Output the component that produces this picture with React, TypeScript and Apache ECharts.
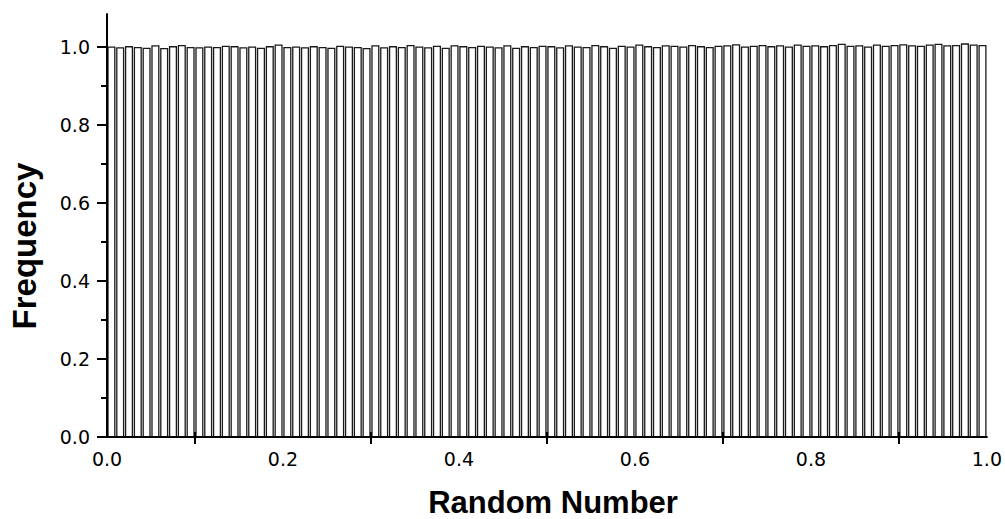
import React, { useEffect, useRef } from "react";
import * as echarts from "echarts";

// Histogram of 100 equal-width bins over [0, 1], normalised frequency per bin
const BIN_COUNT = 100;
const frequencies: number[] = [
  1.000, 0.998, 1.001, 0.999, 0.997, 1.003, 0.996, 1.001, 1.004, 0.999,
  0.998, 1.000, 0.999, 1.002, 1.001, 0.998, 1.000, 0.997, 1.001, 1.005,
  0.999, 1.000, 0.998, 1.001, 0.999, 0.997, 1.002, 1.000, 0.999, 0.996,
  1.003, 0.998, 1.001, 0.999, 1.004, 1.000, 0.998, 1.002, 0.997, 1.003,
  1.001, 0.999, 1.002, 1.000, 0.998, 1.003, 0.997, 1.001, 0.999, 1.002,
  1.001, 0.998, 1.003, 1.000, 0.999, 1.004, 1.001, 0.997, 1.002, 1.000,
  1.005, 1.001, 0.999, 1.003, 1.002, 1.000, 1.004, 1.001, 0.999, 1.002,
  1.003, 1.006, 1.000, 1.002, 1.004, 1.001, 1.003, 1.000, 1.005, 1.002,
  1.003, 1.001, 1.004, 1.007, 1.002, 1.003, 1.000, 1.005, 1.002, 1.004,
  1.006, 1.003, 1.002, 1.005, 1.007, 1.003, 1.004, 1.008, 1.005, 1.004,
];

const xLabelValues = [0, 0.2, 0.4, 0.6, 0.8, 1.0];
const xTickValues = [0.1, 0.3, 0.5, 0.7, 0.9];
const yMajorValues = [0, 0.2, 0.4, 0.6, 0.8, 1.0];
const yMinorValues = [0.1, 0.3, 0.5, 0.7, 0.9];

const TITLE_FONT = "'Liberation Sans', Arial, Helvetica, sans-serif";
const TICK_FONT = "'DejaVu Sans', Verdana, sans-serif";

export default function App() {
  const ref = useRef<HTMLDivElement>(null);

  useEffect(() => {
    if (!ref.current) return;
    const chart = echarts.init(ref.current, undefined, { renderer: "svg" });

    const bins = frequencies.map((f, i) => [i / BIN_COUNT, (i + 1) / BIN_COUNT, f]);

    const axisLineStyle = { color: "#000", width: 2 };
    const labelStyle = {
      color: "#000",
      fontFamily: TICK_FONT,
      fontSize: 19,
      formatter: (v: number) => v.toFixed(1),
    };

    chart.setOption({
      animation: false,
      backgroundColor: "#fff",
      grid: { left: 107, right: 18, top: 14, bottom: 82, containLabel: false },
      xAxis: [
        {
          type: "value",
          min: 0,
          max: 1,
          z: 5,
          splitLine: { show: false },
          axisLine: { lineStyle: axisLineStyle },
          axisTick: {
            show: true,
            length: 7,
            customValues: xTickValues,
            lineStyle: { color: "#000", width: 2 },
          },
          axisLabel: { ...labelStyle, margin: 12, customValues: xLabelValues },
        },
        {
          type: "value",
          position: "bottom",
          min: 0,
          max: 1,
          z: 5,
          splitLine: { show: false },
          axisLine: { show: false },
          axisTick: {
            show: true,
            inside: true,
            length: 5,
            customValues: xTickValues,
            lineStyle: { color: "#000", width: 2 },
          },
          axisLabel: { show: false },
        },
      ],
      yAxis: [
        {
          type: "value",
          min: 0,
          max: 1.085,
          z: 5,
          splitLine: { show: false },
          axisLine: { show: true, lineStyle: axisLineStyle },
          axisTick: {
            show: true,
            length: 10,
            customValues: yMajorValues,
            lineStyle: { color: "#000", width: 2 },
          },
          axisLabel: { ...labelStyle, margin: 17, customValues: yMajorValues },
        },
        {
          type: "value",
          position: "left",
          min: 0,
          max: 1.085,
          z: 5,
          splitLine: { show: false },
          axisLine: { show: false },
          axisTick: {
            show: true,
            length: 6,
            customValues: yMinorValues,
            lineStyle: { color: "#000", width: 2 },
          },
          axisLabel: { show: false },
        },
      ],
      series: [
        {
          type: "custom",
          xAxisIndex: 0,
          yAxisIndex: 0,
          z: 1,
          data: bins,
          encode: { x: [0, 1], y: 2 },
          renderItem: (params: any, api: any) => {
            const top = api.coord([api.value(0), api.value(2)]);
            const bottom = api.coord([api.value(1), 0]);
            return {
              type: "rect",
              shape: {
                x: top[0] + 1,
                y: top[1],
                width: bottom[0] - top[0] - 2,
                height: bottom[1] - top[1],
              },
              style: { fill: "#fff", stroke: "#1a1a1a", lineWidth: 1.3 },
            };
          },
        },
      ],
      graphic: [
        {
          type: "text",
          x: 24,
          y: 246,
          rotation: Math.PI / 2,
          style: {
            text: "Frequency",
            font: `bold 33px ${TITLE_FONT}`,
            fill: "#000",
            align: "center",
            verticalAlign: "middle",
          },
        },
        {
          type: "text",
          x: 553,
          y: 502,
          style: {
            text: "Random Number",
            font: `bold 31px ${TITLE_FONT}`,
            fill: "#000",
            align: "center",
            verticalAlign: "middle",
          },
        },
      ],
    });

    return () => chart.dispose();
  }, []);

  return <div ref={ref} style={{ width: 1005, height: 519, position: "absolute", left: 0, top: 0 }} />;
}
